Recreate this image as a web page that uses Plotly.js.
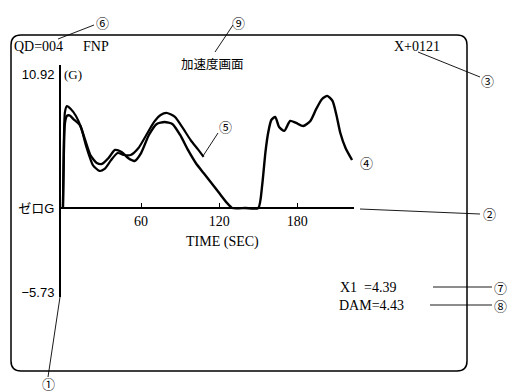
<!DOCTYPE html>
<html><head><meta charset="utf-8">
<script src="https://cdn.plot.ly/plotly-3.0.1.min.js"></script>
<style>html,body{margin:0;padding:0;background:#fff}#chart{width:514px;height:392px}</style>
</head><body><div id="chart"></div>
<script>
// ---- data (time in seconds, acceleration in G) ----
const curve4Time = [0, 0.7, 1.5, 3, 5, 8, 13, 17, 21, 26, 30, 35, 40, 45, 50, 55, 60, 66, 72, 78, 84, 90, 96, 102, 108, 114, 120, 126, 130, 140, 150, 153, 155.5, 157.7, 160, 163, 166, 170, 174.5, 179, 184.5, 190, 194.5, 199, 203, 207, 210, 213, 217, 222];
const curve4G    = [0, 4.5, 6.9, 7.5, 7.55, 7.25, 6.76, 5.54, 4.32, 3.67, 3.59, 4.07, 4.73, 4.56, 4.07, 3.83, 4.48, 5.95, 6.85, 7.01, 6.85, 5.95, 4.73, 3.67, 2.85, 2.04, 1.22, 0.41, 0, 0, 0, 1.87, 4.56, 6.19, 7.17, 7.42, 6.6, 6.28, 7.09, 6.93, 6.68, 7.09, 8.07, 8.88, 9.13, 8.72, 7.58, 6.11, 4.89, 3.91];
const curve5Time = [0, 0.7, 1.5, 3, 6, 10, 14, 18, 23, 28, 32, 37, 42, 47, 52, 58, 64, 70, 75, 80, 86, 92, 98, 104, 108];
const curve5G    = [0, 5.5, 7.8, 8.3, 8.07, 7.5, 6.52, 4.97, 3.5, 3.02, 3.18, 3.91, 4.48, 4.32, 4.32, 4.89, 5.95, 7.01, 7.58, 7.74, 7.42, 6.52, 5.54, 4.73, 4.16];
const xTickVals = [60, 120, 180];
const yTickVals = [10.92, 0, -6.9];
const yTickText = ["10.92", "ゼロG", "−5.73"];

// ---- geometry helpers (pixel -> paper) ----
const W = 514, H = 392;
const M = {l: 61, r: 160, t: 65, b: 95};
const PW = W - M.l - M.r, PH = H - M.t - M.b;
const px = v => (v - M.l) / PW;
const py = v => (H - M.b - v) / PH;

const serif = "Liberation Serif, Noto Sans CJK JP, serif";
const sans = "Liberation Sans, Noto Sans CJK JP, sans-serif";
const cjk = "Noto Sans CJK JP, sans-serif";

function ann(text, x, y, xa, size, fam) {
  return {text: text, x: px(x), y: py(y), xref: 'paper', yref: 'paper', xanchor: xa || 'left', yanchor: 'middle',
          showarrow: false, font: {family: fam || serif, size: size || 14, color: '#000'}};
}
function seg(x0, y0, x1, y1, w) {
  return {type: 'line', xref: 'paper', yref: 'paper', x0: px(x0), y0: py(y0), x1: px(x1), y1: py(y1),
          line: {color: '#000', width: w || 0.9}};
}
// rounded frame
const fl = 11, fr = 467, ft = 35, fb = 371, rad = 10;
const framePath = [
  'M', px(fl + rad), py(ft), 'L', px(fr - rad), py(ft), 'Q', px(fr), py(ft), px(fr), py(ft + rad),
  'L', px(fr), py(fb - rad), 'Q', px(fr), py(fb), px(fr - rad), py(fb),
  'L', px(fl + rad), py(fb), 'Q', px(fl), py(fb), px(fl), py(fb - rad),
  'L', px(fl), py(ft + rad), 'Q', px(fl), py(ft), px(fl + rad), py(ft), 'Z'
].join(' ');

const traces = [
  {x: curve5Time, y: curve5G, type: 'scatter', mode: 'lines', line: {color: '#000', width: 2.2, shape: 'spline', smoothing: 0.6}, hoverinfo: 'skip'},
  {x: curve4Time, y: curve4G, type: 'scatter', mode: 'lines', line: {color: '#000', width: 2.4, shape: 'spline', smoothing: 0.6}, hoverinfo: 'skip'}
];

const layout = {
  width: W, height: H, margin: M, showlegend: false,
  paper_bgcolor: '#fff', plot_bgcolor: 'rgba(0,0,0,0)',
  xaxis: {range: [-1.5, 223.5], anchor: 'free', position: py(208), showline: true, linewidth: 2, linecolor: '#000',
          ticks: 'inside', ticklen: 4, tickwidth: 1, tickcolor: '#000', tickvals: xTickVals,
          tickfont: {family: serif, size: 14, color: '#000'}, showgrid: false, zeroline: false},
  yaxis: {range: [-7.25, 11.65], showline: true, linewidth: 2, linecolor: '#000', ticks: '',
          tickvals: yTickVals, ticktext: yTickText, ticklabelstandoff: 2,
          tickfont: {family: sans, size: 13, color: '#000'}, showgrid: false, zeroline: false},
  shapes: [
    {type: 'path', xref: 'paper', yref: 'paper', path: framePath, line: {color: '#000', width: 1.5}},
    seg(58, 39, 94, 25),      // (6)
    seg(215, 52, 233, 25),    // (9)
    seg(418, 52, 480, 77),    // (3)
    seg(360, 209, 480, 214),  // (2)
    seg(203, 156, 218, 133),  // (5)
    seg(60, 297, 48, 377),    // (1)
    seg(433, 287, 492, 287),  // (7)
    seg(430, 305, 492, 305)   // (8)
  ],
  annotations: [
    ann('QD=004', 12, 47, 'left', 14),
    ann('FNP', 81, 47, 'left', 14),
    ann('加速度画面', 212, 63, 'center', 12.5, cjk),
    ann('X+0121', 392, 47, 'left', 14),
    ann('(G)', 62, 74, 'left', 13),
    ann('TIME (SEC)', 222, 242, 'center', 14),
    ann('X1', 338, 287, 'left', 14),
    ann('=4.39', 362, 287, 'left', 14),
    ann('DAM=4.43', 337, 305, 'left', 14),
    ann('①', 48, 383, 'center', 13, cjk),
    ann('②', 489, 214, 'center', 13, cjk),
    ann('③', 487, 80, 'center', 13, cjk),
    ann('④', 366, 162, 'center', 13, cjk),
    ann('⑤', 225, 126, 'center', 13, cjk),
    ann('⑥', 102, 22, 'center', 13, cjk),
    ann('⑦', 500, 287, 'center', 13, cjk),
    ann('⑧', 500, 305, 'center', 13, cjk),
    ann('⑨', 238, 22, 'center', 13, cjk)
  ]
};
Plotly.newPlot('chart', traces, layout, {staticPlot: true, displayModeBar: false});
</script></body></html>
